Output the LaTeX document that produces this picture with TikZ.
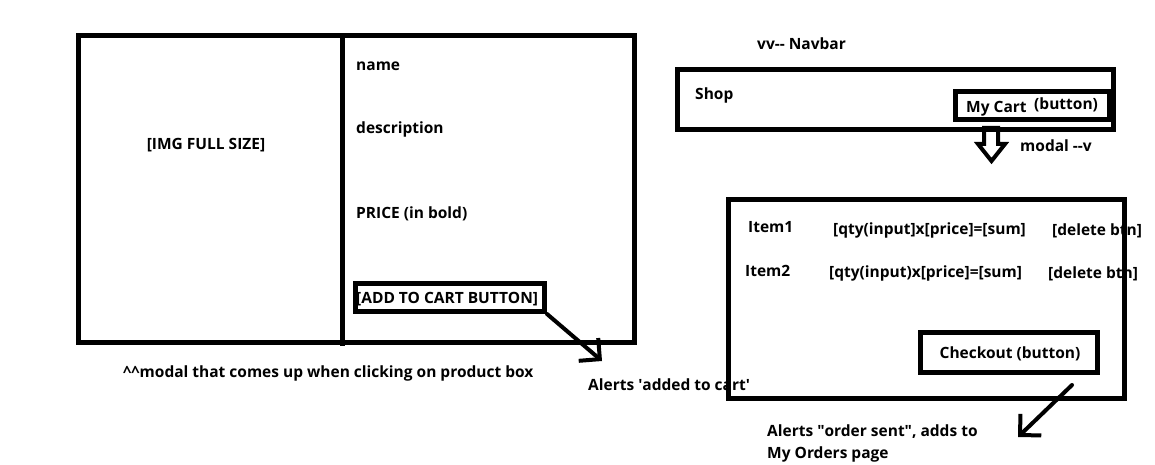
\documentclass[tikz,border=0pt]{standalone}
\usepackage{fontspec}
\setmainfont{Open Sans}
\usetikzlibrary{arrows.meta,positioning}

\begin{document}
\begin{tikzpicture}[
  x=1pt,y=-1pt,
  frame/.style={draw,line width=5pt,inner sep=0pt},
  txt/.style={anchor=base west,inner sep=0pt,yshift=-1.5pt},
  ctxt/.style={anchor=base,inner sep=0pt,yshift=-1.5pt},
  pointer/.style={line width=4pt,line cap=round,-{Straight Barb[length=15pt,width=30pt]}},
  every node/.style={font=\fontsize{15.5}{18}\selectfont\bfseries}
]
  \useasboundingbox (0,0) rectangle (1155,465);

  % product modal
  \node[frame,minimum width=556,minimum height=307] (productbox) at (356.5,189) {};
  \draw[line width=5pt] (342.5,35.5) -- (342.5,346);
  \node[ctxt] (imgtxt) at (206,148) {[IMG FULL SIZE]};
  \node[txt] (nametxt) at (356,69) {name};
  \node[txt] (desctxt) at (356,132) {description};
  \node[txt] (pricetxt) at (356,217) {PRICE (in bold)};
  \node[frame,minimum width=189,minimum height=28] (addcart) at (450,297.5) {};
  \node[txt] (addtxt) at (356,302) {[ADD TO CART BUTTON]};
  \node[txt] (modalnote) at (123,376) {\textasciicircum\textasciicircum modal that comes up when clicking on product box};
  \node[txt] (addalert) at (588,389) {Alerts \textquotesingle added to cart\textquotesingle};
  \coordinate (addtip) at (602,361);
  \draw[pointer] (addcart.south east) -- (addtip);

  % navbar
  \node[txt] (navlabel) at (757,48) {vv-{}- Navbar};
  \node[frame,minimum width=436,minimum height=60] (navbar) at (895.5,99.5) {};
  \node[txt] (shoptxt) at (695,98) {Shop};
  \node[frame,minimum width=154,minimum height=28] (mycart) at (1032.5,105.5) {};
  \node[txt] (mycarttxt) at (966,111) {My Cart};
  \node[txt] (mycartbtn) at (1034,108) {(button)};
  \draw[line width=4pt,line join=miter] (984,128) -- (984,144) -- (978,144) -- (991.5,161)
    -- (1005,144) -- (998,144) -- (998,128) -- cycle;
  \node[txt] (modallabel) at (1020,150) {modal -{}-v};

  % cart modal
  \node[txt] (item1) at (748,231) {Item1};
  \node[txt] (qty1) at (833,233) {[qty(input]x[price]=[sum]};
  \node[txt] (del1) at (1052,234) {[delete btn]};
  \node[txt] (item2) at (745,275) {Item2};
  \node[txt] (qty2) at (829,276) {[qty(input)x[price]=[sum]};
  \node[txt] (del2) at (1048,277) {[delete btn]};
  \node[frame,minimum width=396.5,minimum height=199.5] (cartbox) at (926.25,298.75) {};
  \node[frame,minimum width=177,minimum height=40] (checkout) at (1009,352.5) {};
  \node[ctxt] (checktxt) at (1010,357) {Checkout (button)};
  \node[txt] (orderalert) at (767,435) {Alerts \textquotedbl order sent\textquotedbl, adds to};
  \node[txt] (orderpage) at (767,457) {My Orders page};
  \coordinate (ordstart) at (1072,385);
  \coordinate (ordtip) at (1018,437);
  \draw[pointer] (ordstart) -- (ordtip);
\end{tikzpicture}
\end{document}
